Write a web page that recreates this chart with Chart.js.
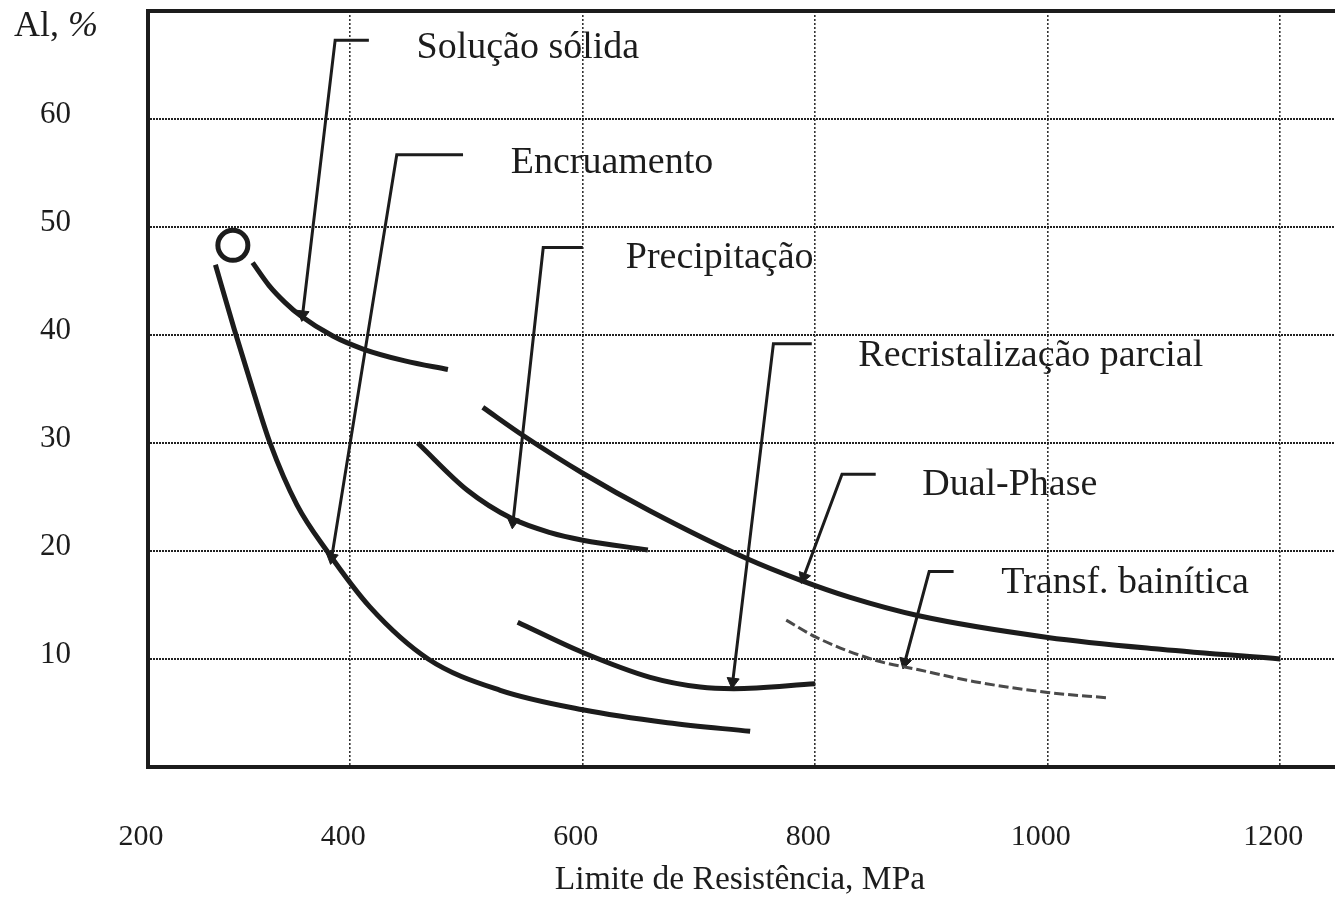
<!DOCTYPE html>
<html lang="pt">
<head>
<meta charset="utf-8">
<title>Alongamento x Limite de Resistência</title>
<script src="https://cdn.jsdelivr.net/npm/chart.js@4.4.1/dist/chart.umd.min.js"></script>
<style>
  html, body { margin: 0; padding: 0; background: #fff; overflow: hidden; }
  #wrap { width: 1420px; height: 924px; }
</style>
</head>
<body>
<div id="wrap"><canvas id="chart" width="1420" height="924"></canvas></div>
<script>
// eixos
const xTickValues = [200, 400, 600, 800, 1000, 1200];
const yTickValues = [10, 20, 30, 40, 50, 60];
const yAxisLabel = 'Al, ';
const yAxisUnit = '%';
const xAxisTitle = 'Limite de Resistência, MPa';

// curvas (MPa, %)
const encruamentoX = [284, 300, 316, 331, 354, 380, 417, 467, 529, 600, 673, 744];
const encruamentoY = [46.5, 40.6, 35.0, 30.0, 24.3, 20.0, 14.8, 10.0, 7.1, 5.3, 4.1, 3.3];

const solucaoX = [316, 330, 344, 357, 385, 411, 447, 484];
const solucaoY = [46.7, 44.6, 43.0, 41.8, 39.9, 38.7, 37.6, 36.8];

const precipitacaoX = [458, 501, 539, 572, 600, 656];
const precipitacaoY = [30.0, 25.6, 23.0, 21.7, 21.0, 20.1];

const dualPhaseX = [514, 550, 600, 658, 741, 787, 830, 889, 1000, 1097, 1200];
const dualPhaseY = [33.3, 30.6, 27.2, 23.7, 19.3, 17.3, 15.7, 14.0, 12.0, 10.9, 10.0];

const recristalizacaoX = [544, 600, 658, 701, 730, 800];
const recristalizacaoY = [13.4, 10.6, 8.3, 7.4, 7.25, 7.7];

const bainiticaX = [775, 801, 851, 889, 937, 1000, 1052];
const bainiticaY = [13.6, 12.0, 9.9, 9.0, 7.9, 6.9, 6.4];

// aco de referencia (circulo)
const inicioX = [299];
const inicioY = [48.3];

// rotulos e setas
const rotulos = ['Solução sólida', 'Encruamento', 'Precipitação', 'Recristalização parcial', 'Dual-Phase', 'Transf. bainítica'];
const rotuloX = [457, 538, 637, 837, 892, 960];
const rotuloY = [66.6, 55.9, 47.1, 38.1, 26.1, 17.0];
const setaX = [[416, 387, 359], [497, 440, 384], [600, 566, 540], [797, 764, 729], [852, 823, 790], [919, 898, 877]];
const setaY = [[67.3, 67.3, 41.9], [56.7, 56.7, 19.4], [48.1, 48.1, 22.7], [39.2, 39.2, 7.9], [27.1, 27.1, 17.6], [18.1, 18.1, 9.7]];

const serif = '"Liberation Serif", "DejaVu Serif", serif';
const ink = '#1c1c1c';

function pts(xs, ys) { return xs.map((x, i) => ({ x: x, y: ys[i] })); }

function curve(xs, ys, extra) {
  return Object.assign({
    data: pts(xs, ys),
    borderColor: ink,
    borderWidth: 5,
    pointRadius: 0,
    cubicInterpolationMode: 'monotone',
    borderCapStyle: 'butt',
    fill: false
  }, extra || {});
}

const datasets = [
  curve(encruamentoX, encruamentoY),
  curve(solucaoX, solucaoY),
  curve(precipitacaoX, precipitacaoY),
  curve(dualPhaseX, dualPhaseY),
  curve(recristalizacaoX, recristalizacaoY),
  curve(bainiticaX, bainiticaY, { borderColor: '#4a4a4a', borderWidth: 3, borderDash: [10, 4] }),
  {
    data: pts(inicioX, inicioY),
    showLine: false,
    pointStyle: 'circle',
    pointRadius: 15,
    pointBorderWidth: 5,
    pointBorderColor: ink,
    pointBackgroundColor: 'rgba(255,255,255,0)'
  }
];

setaX.forEach((xs, k) => {
  datasets.push({
    data: pts(xs, setaY[k]),
    borderColor: ink,
    borderWidth: 3,
    tension: 0,
    pointStyle: 'triangle',
    pointBackgroundColor: ink,
    pointBorderColor: ink,
    pointBorderWidth: 1,
    pointRadius: ctx => ctx.dataIndex === xs.length - 1 ? 7 : 0,
    pointRotation: ctx => {
      const i = ctx.dataIndex;
      if (i === 0) return 0;
      const d = ctx.dataset.data, sx = ctx.chart.scales.x, sy = ctx.chart.scales.y;
      const dx = sx.getPixelForValue(d[i].x) - sx.getPixelForValue(d[i - 1].x);
      const dy = sy.getPixelForValue(d[i].y) - sy.getPixelForValue(d[i - 1].y);
      return Math.atan2(dx, -dy) * 180 / Math.PI;
    }
  });
});

// moldura completa + textos
const moldura = {
  id: 'moldura',
  beforeDatasetsDraw(chart) {
    const a = chart.chartArea, c = chart.ctx;
    c.save();
    c.strokeStyle = ink;
    c.lineWidth = 4;
    c.strokeRect(a.left, a.top, a.right - a.left, a.bottom - a.top);
    c.restore();
  },
  afterDatasetsDraw(chart) {
    const c = chart.ctx, sx = chart.scales.x, sy = chart.scales.y;
    c.save();
    c.fillStyle = ink;
    c.textBaseline = 'middle';
    c.textAlign = 'left';
    c.font = '38px ' + serif;
    rotulos.forEach((t, i) => {
      c.fillText(t, sx.getPixelForValue(rotuloX[i]), sy.getPixelForValue(rotuloY[i]));
    });
    // titulo do eixo y
    c.font = '36px ' + serif;
    c.fillText(yAxisLabel, 14, 27);
    const w = c.measureText(yAxisLabel).width;
    c.font = 'italic 36px ' + serif;
    c.fillText(yAxisUnit, 14 + w, 27);
    // titulo do eixo x
    c.font = '33.5px ' + serif;
    c.textAlign = 'center';
    c.fillText(xAxisTitle, 740, 880);
    c.restore();
  }
};

new Chart(document.getElementById('chart'), {
  type: 'line',
  data: { datasets: datasets },
  options: {
    responsive: false,
    animation: false,
    devicePixelRatio: 1,
    layout: { autoPadding: false, padding: { top: 11, right: 20, left: 0, bottom: 0 } },
    plugins: { legend: { display: false }, tooltip: { enabled: false } },
    scales: {
      x: {
        type: 'linear',
        min: 226,
        max: 1303,
        afterFit: s => { s.height = 157; s.paddingLeft = 0; s.paddingRight = 0; },
        afterBuildTicks: s => { s.ticks = xTickValues.map(v => ({ value: Math.max(v, s.min) })); },
        grid: { color: '#333', lineWidth: 1.6, drawTicks: false },
        border: { color: ink, width: 4, dash: [2, 2] },
        ticks: {
          callback: (v, i) => xTickValues[i],
          font: { family: serif, size: 30 },
          color: ink,
          padding: 52,
          labelOffset: -7,
          maxRotation: 0
        }
      },
      y: {
        min: 0,
        max: 70,
        afterFit: s => { s.width = 148; s.paddingTop = 0; s.paddingBottom = 0; },
        afterBuildTicks: s => { s.ticks = yTickValues.map(v => ({ value: v })); },
        grid: { color: '#222', lineWidth: 2, drawTicks: false },
        border: { color: ink, width: 4, dash: [2, 1] },
        ticks: {
          font: { family: serif, size: 31 },
          color: ink,
          padding: 77,
          labelOffset: -4
        }
      }
    }
  },
  plugins: [moldura]
});
</script>
</body>
</html>
